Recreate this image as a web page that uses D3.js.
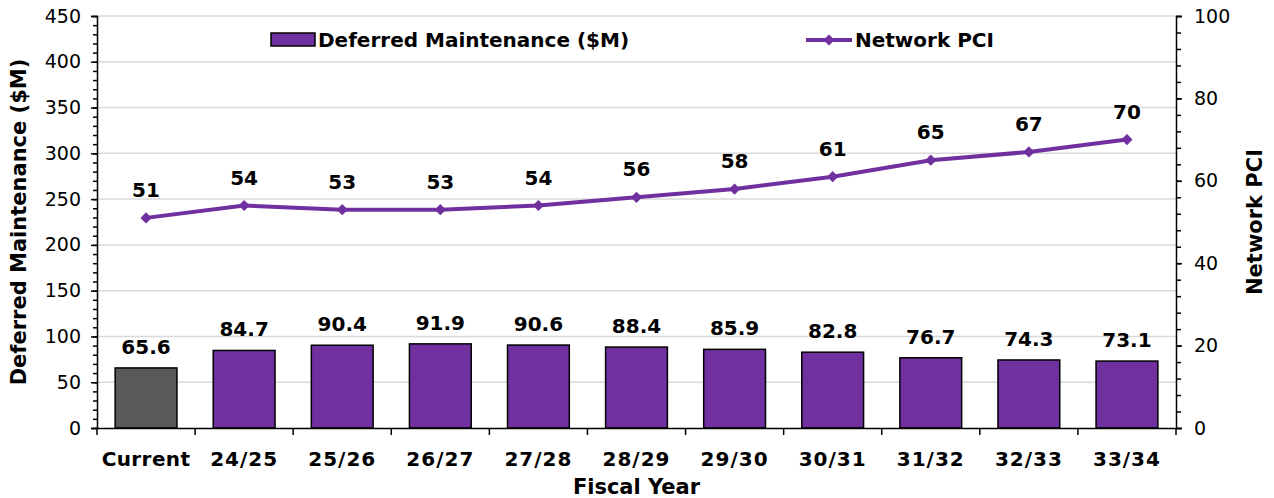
<!DOCTYPE html>
<html>
<head>
<meta charset="utf-8">
<script src="https://cdn.jsdelivr.net/npm/d3@7"></script>
<style>
body{margin:0;background:#fff;}
svg text{font-family:"DejaVu Sans",Verdana,sans-serif;}
</style>
</head>
<body>
<svg id="chart"></svg>
<script>
// chart data
var categories = ["Current","24/25","25/26","26/27","27/28","28/29","29/30","30/31","31/32","32/33","33/34"];
var maintenance = [65.6,84.7,90.4,91.9,90.6,88.4,85.9,82.8,76.7,74.3,73.1];
var pci = [51,54,53,53,54,56,58,61,65,67,70];
var leftTicks = [0,50,100,150,200,250,300,350,400,450];
var rightTicks = [0,20,40,60,80,100];

var W = 1274, H = 498;
var margin = {top:16, right:98, bottom:70, left:97};
var width = W - margin.left - margin.right, height = H - margin.top - margin.bottom;
var purple = "#7030a0";

var svg = d3.select("#chart").attr("width",W).attr("height",H);
var g = svg.append("g").attr("transform","translate("+margin.left+","+margin.top+")");

var x = d3.scaleBand().domain(categories).range([0,width]).paddingInner(0.37).paddingOuter(0.185);
var xb = d3.scaleBand().domain(categories).range([0,width]);
var y = d3.scaleLinear().domain([0,450]).range([height,0]);
var y2 = d3.scaleLinear().domain([0,100]).range([height,0]);

// gridlines
g.selectAll("line.grid").data(leftTicks.slice(1)).enter().append("line")
    .attr("class","grid")
    .attr("x1",0).attr("x2",width)
    .attr("y1",d=>y(d)).attr("y2",d=>y(d))
    .attr("stroke","#d9d9d9").attr("stroke-width",1.5);

// bars
g.selectAll("rect.bar").data(maintenance).enter().append("rect")
    .attr("class","bar")
    .attr("x",(d,i)=>x(categories[i]))
    .attr("y",d=>y(d))
    .attr("width",x.bandwidth())
    .attr("height",d=>height-y(d))
    .attr("fill",(d,i)=>i==0?"#595959":purple)
    .attr("stroke","#000").attr("stroke-width",1.5);

g.selectAll("text.barlab").data(maintenance).enter().append("text")
    .attr("x",(d,i)=>x(categories[i])+x.bandwidth()/2)
    .attr("y",d=>y(d)-14)
    .attr("text-anchor","middle")
    .style("font-size","20px").style("font-weight","bold")
    .text(d=>d.toFixed(1));

// line
var cx = (d,i)=>xb(categories[i])+xb.bandwidth()/2;
var line = d3.line().x(cx).y(d=>y2(d));
g.append("path").datum(pci)
    .attr("d",line).attr("fill","none")
    .attr("stroke",purple).attr("stroke-width",4);
var diamond = d3.symbol().type(d3.symbolDiamond2).size(80);
g.selectAll("path.mark").data(pci).enter().append("path")
    .attr("d",diamond)
    .attr("transform",(d,i)=>"translate("+cx(d,i)+","+y2(d)+")")
    .attr("fill",purple);
g.selectAll("text.linelab").data(pci).enter().append("text")
    .attr("x",cx)
    .attr("y",d=>y2(d)-21)
    .attr("text-anchor","middle")
    .style("font-size","20px").style("font-weight","bold")
    .text(d=>d);

// axes
var leftAxis = d3.axisLeft(y).tickValues(leftTicks).tickSize(6).tickPadding(10);
var la = g.append("g").call(leftAxis);
var leftMinor = d3.axisLeft(y).tickValues(d3.range(0,451,10)).tickSize(4).tickFormat("");
g.append("g").call(leftMinor).select(".domain").remove();

var rightAxis = d3.axisRight(y2).tickValues(rightTicks).tickSize(6).tickPadding(12);
var ra = g.append("g").attr("transform","translate("+width+",0)").call(rightAxis);
var rightMinor = d3.axisRight(y2).tickValues(d3.range(0,101,4)).tickSize(5).tickFormat("");
g.append("g").attr("transform","translate("+width+",0)").call(rightMinor).select(".domain").remove();

var xAxis = d3.axisBottom(xb).tickSize(0).tickPadding(24);
var xa = g.append("g").attr("transform","translate(0,"+height+")").call(xAxis);
xa.selectAll(".tick text").style("font-size","20px").style("font-weight","bold")
    .style("letter-spacing",d=>d.indexOf("/")>=0?"1px":"0.4px");
g.selectAll("line.xtick").data(d3.range(categories.length+1)).enter().append("line")
    .attr("x1",i=>i*xb.step()).attr("x2",i=>i*xb.step())
    .attr("y1",height).attr("y2",height+7)
    .attr("stroke","#000").attr("stroke-width",1.5);

[la,ra].forEach(a=>{
    a.selectAll(".tick text").style("font-size","19px").attr("fill","#000");
});
g.selectAll(".domain").attr("stroke","#000").attr("stroke-width",1.5);
g.selectAll(".tick line").attr("stroke","#000").attr("stroke-width",1.5);

// axis titles
svg.append("text")
    .attr("transform","translate(26,"+(margin.top+height/2)+") rotate(-90)")
    .attr("text-anchor","middle")
    .style("font-size","21px").style("font-weight","bold")
    .text("Deferred Maintenance ($M)");
svg.append("text")
    .attr("transform","translate(1262,"+(margin.top+height/2)+") rotate(-90)")
    .attr("text-anchor","middle")
    .style("font-size","21px").style("font-weight","bold")
    .text("Network PCI");
svg.append("text")
    .attr("x",margin.left+width/2).attr("y",494)
    .attr("text-anchor","middle")
    .style("font-size","21px").style("font-weight","bold")
    .text("Fiscal Year");

// legend
var leg = svg.append("g");
leg.append("rect").attr("x",271).attr("y",33).attr("width",44).attr("height",13)
    .attr("fill",purple).attr("stroke","#000").attr("stroke-width",1.5);
leg.append("text").attr("x",318).attr("y",47)
    .style("font-size","20px").style("font-weight","bold")
    .text("Deferred Maintenance ($M)");
leg.append("line").attr("x1",806).attr("x2",852).attr("y1",40).attr("y2",40)
    .attr("stroke",purple).attr("stroke-width",4);
leg.append("path").attr("d",diamond).attr("transform","translate(829,40)").attr("fill",purple);
leg.append("text").attr("x",855).attr("y",47)
    .style("font-size","20px").style("font-weight","bold")
    .text("Network PCI");
</script>
</body>
</html>
